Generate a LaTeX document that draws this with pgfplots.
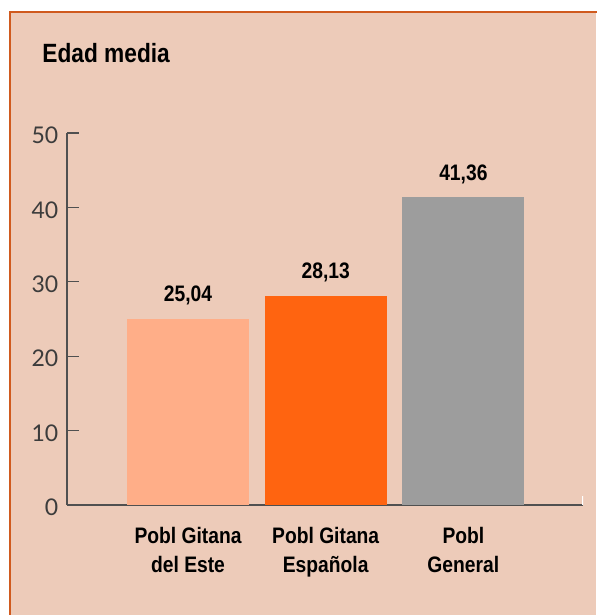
\documentclass[border=0pt]{standalone}
\usepackage{pgfplots}
\pgfplotsset{compat=1.18}
\usepackage{fontspec}
\setmainfont{Lato}
\newfontfamily\cond[FakeStretch=0.86]{Liberation Sans}

\definecolor{bgc}{HTML}{EDCBB9}
\definecolor{borderc}{HTML}{D05A1E}
\definecolor{barA}{HTML}{FFAE88}
\definecolor{barB}{HTML}{FF6410}
\definecolor{barC}{HTML}{9D9D9D}
\definecolor{axisc}{HTML}{505050}
\definecolor{tickc}{HTML}{3C3C3C}

\begin{document}
\begin{tikzpicture}[x=1pt,y=1pt]
  \path[use as bounding box] (0,0) rectangle (298,307.5);
  \fill[bgc] (4.5,0) rectangle (298,302);
  \draw[borderc, line width=1.2pt] (5,-2) -- (5,301.5) -- (300,301.5);
  \node[anchor=base west, inner sep=0pt, font=\cond\bfseries\fontsize{13.2}{15}\selectfont]
    at (21,276.2) {Edad media};

  \begin{axis}[
      at={(33.5pt,55pt)}, anchor=south west,
      scale only axis, width=258pt, height=186pt,
      xmin=-0.879, xmax=2.869, ymin=0, ymax=50,
      axis x line=bottom, axis y line=left,
      axis line style={-, axisc, line width=0.7pt},
      /pgf/number format/assume math mode=true,
      ybar, bar width=61pt, bar shift=0pt,
      ytick={0,10,...,50},
      tick align=inside,
      major tick length=6pt,
      y tick style={axisc, line width=0.6pt},
      x tick style={draw=none},
      yticklabel style={font=\fontsize{11.5}{13}\selectfont, text=tickc,
        inner sep=0pt, xshift=-4.2pt, yshift=-1.2pt},
      xtick={0,1,2},
      xticklabels={{Pobl Gitana\\del Este},{Pobl Gitana\\Española},{Pobl\\General}},
      xticklabel style={font=\cond\bfseries\fontsize{11.2}{14.5}\selectfont,
        align=center, anchor=north, inner sep=0pt, yshift=-10.8pt},
      nodes near coords={\pgfmathprintnumber[fixed,fixed zerofill,precision=2,use comma,assume math mode=true]{\pgfplotspointmeta}},
      every node near coord/.append style={font=\cond\bfseries\fontsize{11.2}{13}\selectfont,
        anchor=base, inner sep=0pt, yshift=8.6pt},
    ]
    \addplot[fill=barA, draw=none] coordinates {(0,25.04)};
    \addplot[fill=barB, draw=none] coordinates {(1,28.13)};
    \addplot[fill=barC, draw=none] coordinates {(2,41.36)};
    \draw[white, line width=0.8pt] (axis cs:2.869,0) -- ++(0pt,4.5pt);
  \end{axis}
\end{tikzpicture}
\end{document}
